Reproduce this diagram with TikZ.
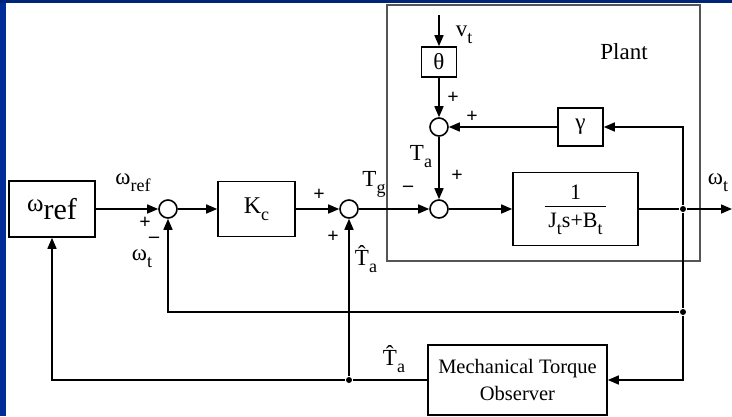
\documentclass[tikz,border=0pt]{standalone}
\usepackage{fontspec}
\setmainfont{Liberation Serif}
\usepackage{tikz}
\usetikzlibrary{shapes,arrows,arrows.meta,positioning,calc}
\definecolor{navy}{RGB}{0,36,120}
\definecolor{edgeblue}{RGB}{0,46,150}
\definecolor{framegray}{RGB}{85,85,85}
\newcommand{\lowsub}[1]{\raisebox{-7pt}{\fontsize{18}{18}\selectfont #1}}

\begin{document}
\begin{tikzpicture}[x=1pt, y=-1pt, line width=1.6pt, >={Triangle[length=11pt,width=9pt]},
        block/.style={rectangle, draw, fill=white, inner sep=0pt, text centered},
        sum/.style={circle, draw, fill=white, inner sep=0pt, minimum size=18pt},
        frame/.style={rectangle, draw=framegray, line width=1.1pt, inner sep=0pt},
        lbl/.style={font=\fontsize{23}{25}\selectfont, inner sep=0pt},
        sgn/.style={font=\fontsize{20}{20}\selectfont\bfseries, inner sep=0pt},
        dot/.style={circle, fill, inner sep=0pt, minimum size=6pt}]

        % slide edge
        \fill[white] (0,0) rectangle (732,416);
        \fill[edgeblue] (0,0) rectangle (6,416);
        \fill[navy] (0,0) rectangle (732,3);
        \useasboundingbox (0,0) rectangle (732,416);

        \node [frame, minimum width=313pt, minimum height=256pt] (plant) at (543.5,133) {};
        \node [lbl] (plantlbl) at (624,52) {Plant};

        \node [block, minimum width=86pt, minimum height=56pt] (ref) at (52,209)
            {\fontsize{25}{25}\selectfont\raisebox{3pt}{ω}\raisebox{-5pt}{\fontsize{30}{30}\selectfont ref}};
        \node [sum, right of=ref, node distance=116pt] (s1) {};
        \node [block, right of=s1, node distance=88.5pt, minimum width=77pt, minimum height=55pt] (kc)
            {\fontsize{24}{24}\selectfont K\lowsub{c}};
        \node [sum, right of=kc, node distance=92.5pt] (s2) {};
        \node [sum, right of=s2, node distance=90pt] (s3) {};
        \node [block, right of=s3, node distance=136.5pt, minimum width=125pt, minimum height=73pt] (tf)
            {\fontsize{22}{22}\selectfont\begin{tabular}{@{\,}c@{\,}}1\\[0pt]\hline\rule{0pt}{21pt}J\lowsub{t}s+B\lowsub{t}\end{tabular}};
        \node [sum, above of=s3, node distance=82pt] (s4) {};
        \node [block, above of=s4, node distance=65pt, minimum width=35pt, minimum height=30pt] (theta)
            {\fontsize{23}{23}\selectfont θ};
        \node [block, right of=s4, node distance=141.5pt, minimum width=45pt, minimum height=38pt] (gam)
            {\fontsize{23}{23}\selectfont γ};
        \node [block, minimum width=179pt, minimum height=70pt, align=center,
            font=\fontsize{20.5}{27}\selectfont] (obs) at (517.5,380) {Mechanical Torque\\Observer};

        \coordinate (vin) at (439,15);
        \coordinate (yend) at (732,209);
        \node [dot] (dout) at (683,209) {};
        \node [dot] (dfb) at (683,312) {};
        \node [dot] (dobs) at (349,380) {};

        \path [draw, ->] (ref) -- (s1);
        \path [draw, ->] (s1) -- (kc);
        \path [draw, ->] (kc) -- (s2);
        \path [draw, ->] (s2) -- (s3);
        \path [draw, ->] (s3) -- (tf);
        \path [draw, ->] (vin) -- (theta);
        \path [draw, ->] (theta) -- (s4);
        \path [draw, ->] (s4) -- (s3);
        \path [draw, ->] (gam) -- (s4);
        \path [draw] (tf) -- (dout);
        \path [draw, ->] (dout) -- (yend);
        \path [draw, ->] (dout) |- (gam);
        \path [draw] (dout) -- (dfb);
        \path [draw, ->] (dfb) |- (obs);
        \path [draw, ->] (dfb) -| (s1);
        \path [draw] (obs) -- (dobs);
        \path [draw, ->] (dobs) -- (s2);
        \path [draw, ->] (dobs) -| (ref);

        % signal names
        \node [lbl] (wref) at (133,183) {ω\lowsub{ref}};
        \node [lbl] (wt1) at (142,259) {ω\lowsub{t}};
        \node [lbl] (tg) at (374,184) {T\lowsub{g}};
        \node [lbl] (ta1) at (366,259) {\^{T}\lowsub{a}};
        \node [lbl] (ta2) at (421,157) {T\lowsub{a}};
        \node [lbl] (vt) at (464,35) {v\lowsub{t}};
        \node [lbl] (wt2) at (718,183) {ω\lowsub{t}};
        \node [lbl] (ta3) at (394,359) {\^{T}\lowsub{a}};

        % signs
        \node [sgn] at (145,223) {+};
        \node [sgn] at (154,240) {--};
        \node [sgn] at (319,195) {+};
        \node [sgn] at (333,237) {+};
        \node [sgn] at (408,189) {--};
        \node [sgn] at (457,176) {+};
        \node [sgn] at (453,98) {+};
        \node [sgn] at (472,117) {+};
    \end{tikzpicture}
\end{document}
